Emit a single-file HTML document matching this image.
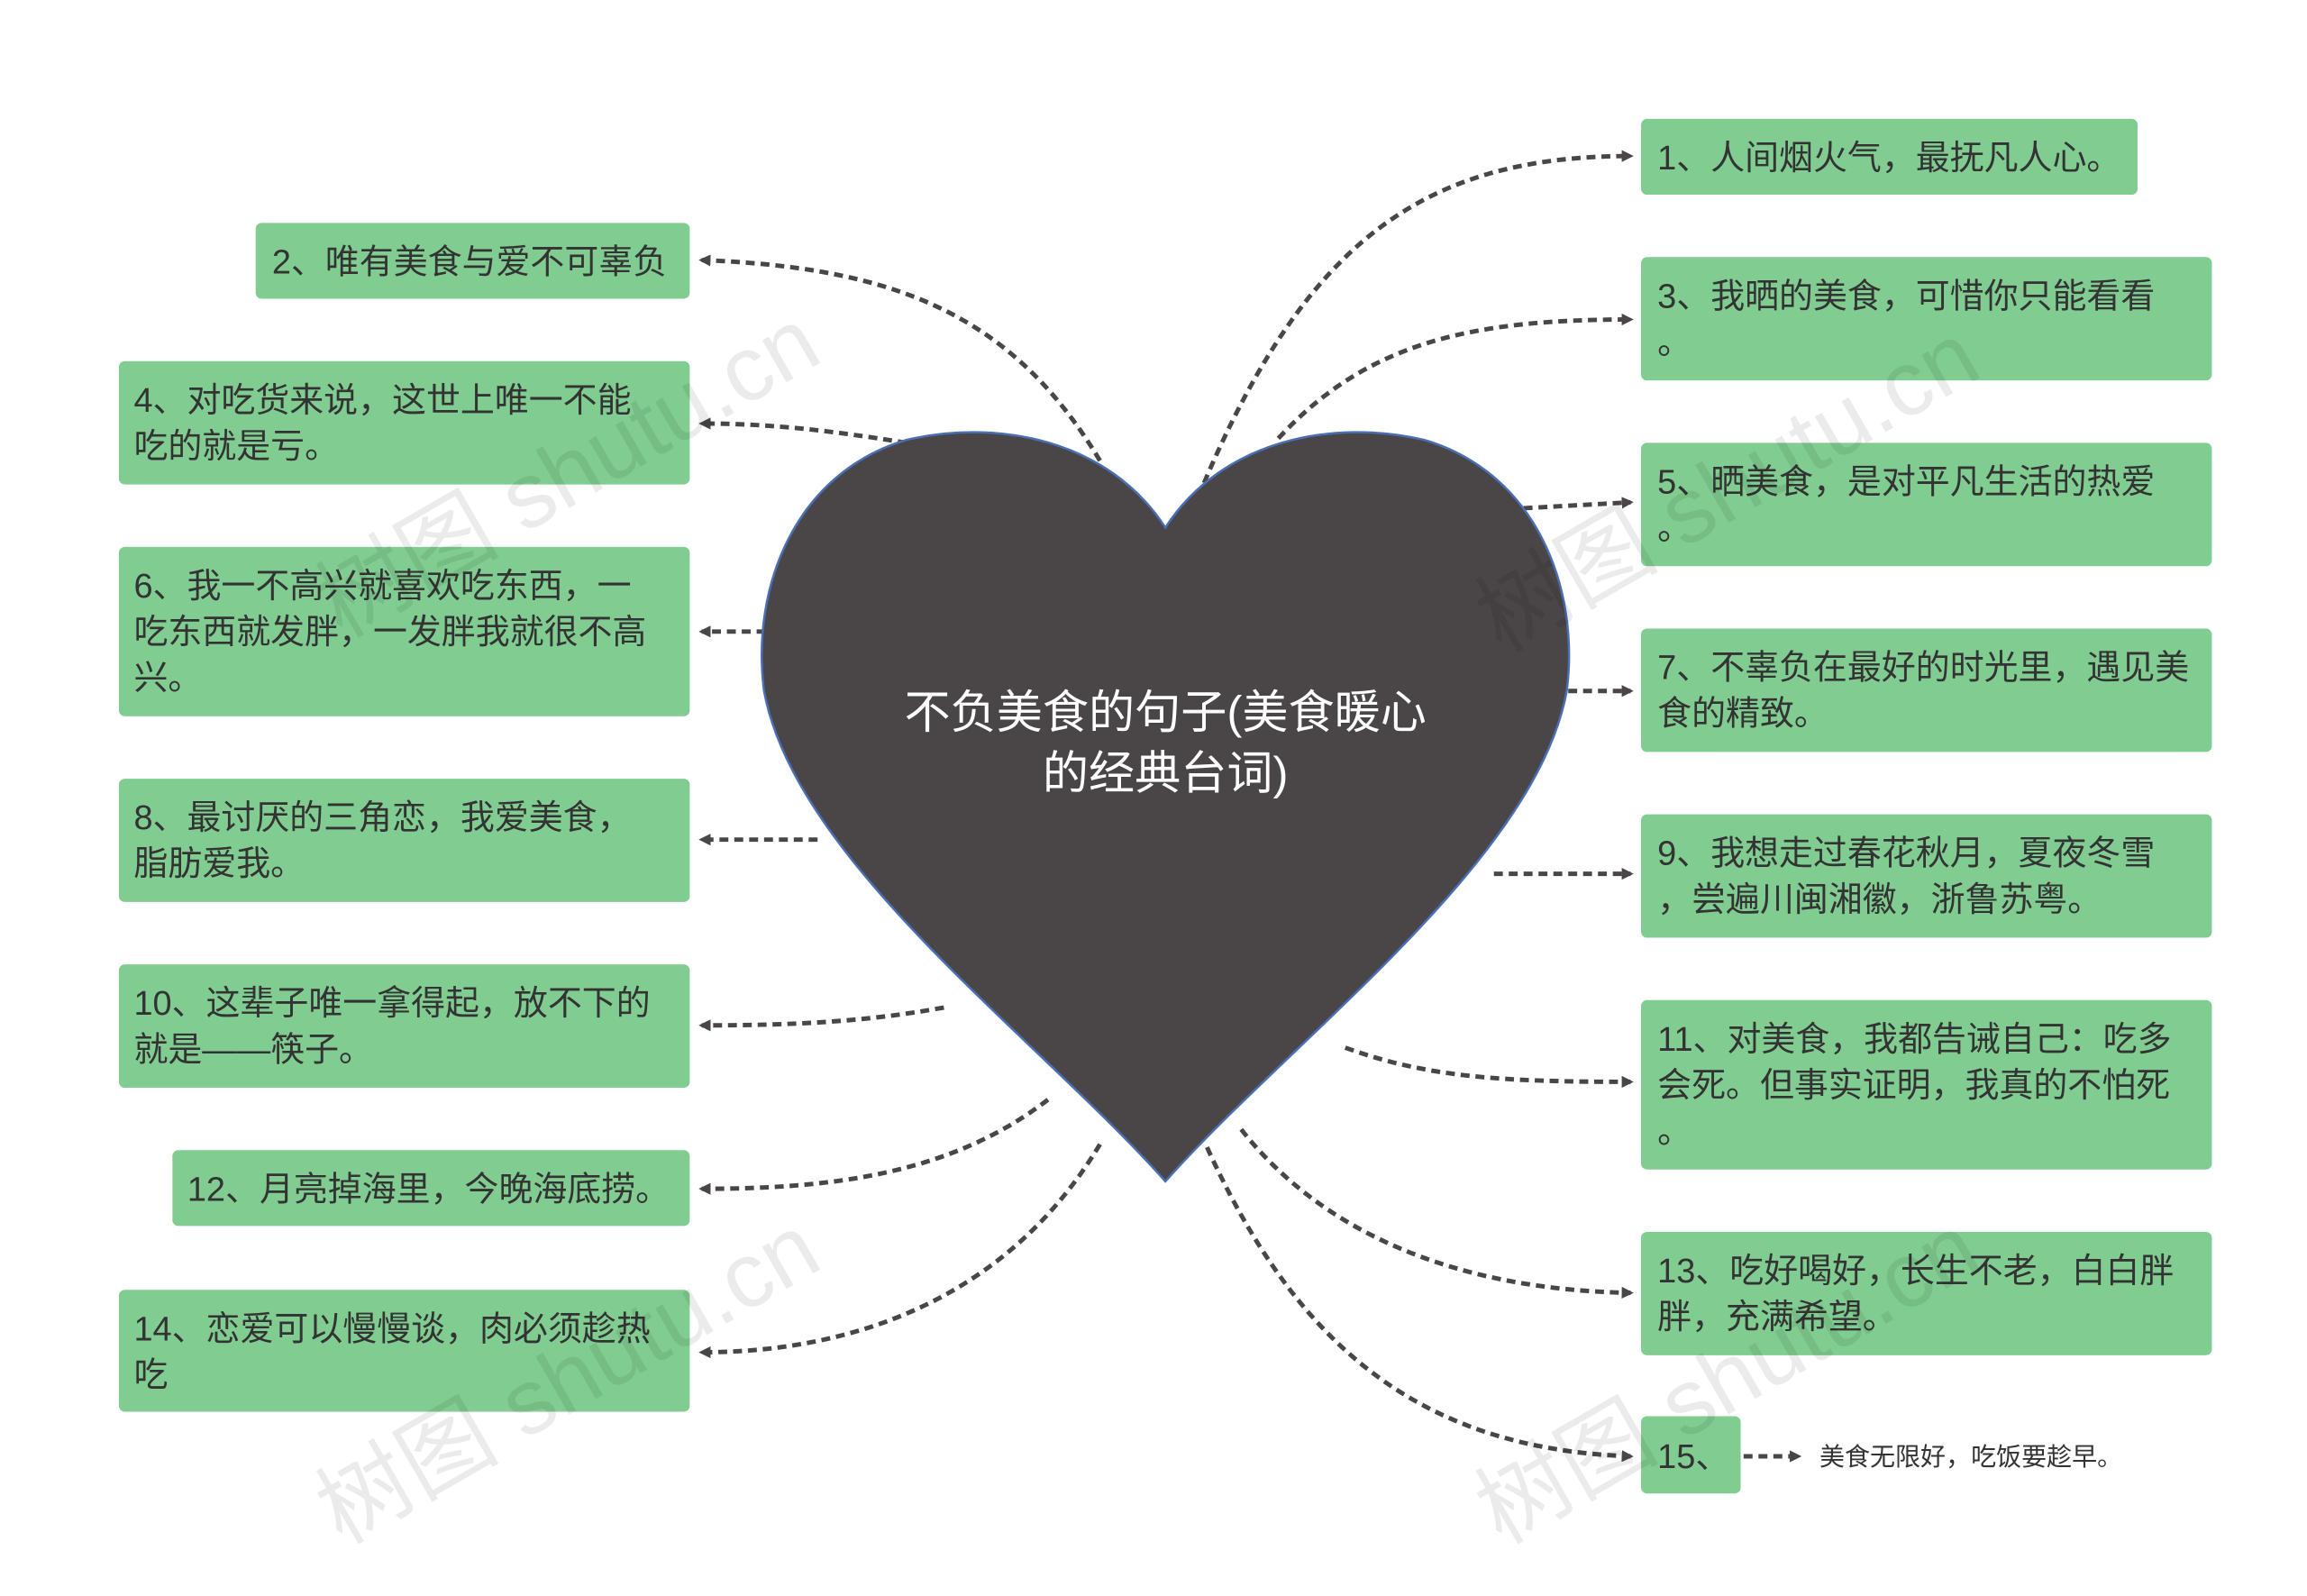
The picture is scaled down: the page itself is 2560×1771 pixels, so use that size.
<!DOCTYPE html>
<html><head><meta charset="utf-8"><style>
html,body{margin:0;padding:0;background:#fff;}
svg{display:block;}
text{font-family:"Liberation Sans","Noto Sans CJK SC",sans-serif;}
</style></head><body>
<svg width="2560" height="1771" viewBox="0 0 1552 1074" preserveAspectRatio="none" xmlns="http://www.w3.org/2000/svg">
<defs>
<marker id="a" markerWidth="8" markerHeight="8" refX="6" refY="4" orient="auto" markerUnits="userSpaceOnUse"><path d="M0,0 L8,4 L0,8 Z" fill="#4a4546"/></marker>
</defs>
<rect width="1552" height="1074" fill="#fff"/>
<g fill="none" stroke="#4a4546" stroke-width="3" stroke-dasharray="6 4" marker-end="url(#a)">
<path d="M740,310 C680,210 600,180 472,175"/>
<path d="M610,298 C560,290 520,285 472,285"/>
<path d="M515,425 L472,425"/>
<path d="M550,565 L472,565"/>
<path d="M635,678 C580,688 530,690 472,690"/>
<path d="M705,740 C640,790 560,800 472,800"/>
<path d="M740,770 C680,870 580,910 472,910"/>
<path d="M810,325 C880,160 960,105 1097,105"/>
<path d="M860,295 C920,230 990,215 1097,215"/>
<path d="M1025,342 L1097,338"/>
<path d="M1055,465 L1097,465"/>
<path d="M1005,588 L1097,588"/>
<path d="M905,705 C960,725 1010,728 1097,728"/>
<path d="M835,760 C890,830 980,868 1097,870"/>
<path d="M812,772 C870,900 950,975 1097,980"/>
<path d="M1173,980 L1210,980"/>
</g>
<path d="M784,355 C745,295 670,282 610,296 C535,318 505,395 514,465 C535,580 700,700 784,795 C868,700 1033,580 1054,465 C1063,395 1033,318 958,296 C898,282 823,295 784,355 Z" fill="#4a4546" stroke="#4a6fb5" stroke-width="1.5"/>
<text x="784" y="490" fill="#fff" font-size="31" text-anchor="middle">不负美食的句子(美食暖心</text>
<text x="784" y="531" fill="#fff" font-size="31" text-anchor="middle">的经典台词)</text>
<g fill="#80cc91">
<rect x="172" y="150" width="292" height="51" rx="4"/>
<rect x="80" y="243" width="384" height="83" rx="4"/>
<rect x="80" y="368" width="384" height="114" rx="4"/>
<rect x="80" y="524" width="384" height="83" rx="4"/>
<rect x="80" y="649" width="384" height="83" rx="4"/>
<rect x="116" y="774" width="348" height="51" rx="4"/>
<rect x="80" y="868" width="384" height="82" rx="4"/>
<rect x="1104" y="80" width="334" height="51" rx="4"/>
<rect x="1104" y="173" width="384" height="83" rx="4"/>
<rect x="1104" y="298" width="384" height="83" rx="4"/>
<rect x="1104" y="423" width="384" height="83" rx="4"/>
<rect x="1104" y="548" width="384" height="83" rx="4"/>
<rect x="1104" y="673" width="384" height="114" rx="4"/>
<rect x="1104" y="829" width="384" height="83" rx="4"/>
<rect x="1104" y="953" width="67" height="52" rx="4"/>
</g>
<g fill="#333" font-size="23">
<text x="183" y="184">2、唯有美食与爱不可辜负</text>
<text x="90" y="277">4、对吃货来说，这世上唯一不能</text>
<text x="90" y="308">吃的就是亏。</text>
<text x="90" y="402">6、我一不高兴就喜欢吃东西，一</text>
<text x="90" y="433">吃东西就发胖，一发胖我就很不高</text>
<text x="90" y="464">兴。</text>
<text x="90" y="558">8、最讨厌的三角恋，我爱美食，</text>
<text x="90" y="589">脂肪爱我。</text>
<text x="90" y="683">10、这辈子唯一拿得起，放不下的</text>
<text x="90" y="714">就是——筷子。</text>
<text x="126" y="808">12、月亮掉海里，今晚海底捞。</text>
<text x="90" y="902">14、恋爱可以慢慢谈，肉必须趁热</text>
<text x="90" y="933">吃</text>
<text x="1115" y="114">1、人间烟火气，最抚凡人心。</text>
<text x="1115" y="207">3、我晒的美食，可惜你只能看看</text>
<text x="1115" y="238">。</text>
<text x="1115" y="332">5、晒美食，是对平凡生活的热爱</text>
<text x="1115" y="363">。</text>
<text x="1115" y="457">7、不辜负在最好的时光里，遇见美</text>
<text x="1115" y="488">食的精致。</text>
<text x="1115" y="582">9、我想走过春花秋月，夏夜冬雪</text>
<text x="1115" y="613">，尝遍川闽湘徽，浙鲁苏粤。</text>
<text x="1115" y="707">11、对美食，我都告诫自己：吃多</text>
<text x="1115" y="738">会死。但事实证明，我真的不怕死</text>
<text x="1115" y="769">。</text>
<text x="1115" y="863">13、吃好喝好，长生不老，白白胖</text>
<text x="1115" y="894">胖，充满希望。</text>
<text x="1115" y="988">15、</text>
<text x="1224" y="986" font-size="17">美食无限好，吃饭要趁早。</text>
</g>
<g fill="#000" fill-opacity="0.08" font-size="62" font-family="Liberation Serif, Noto Serif CJK SC, serif">
<text transform="translate(230,430) rotate(-30)">树图 shutu.cn</text>
<text transform="translate(1010,440) rotate(-30)">树图 shutu.cn</text>
<text transform="translate(230,1040) rotate(-30)">树图 shutu.cn</text>
<text transform="translate(1010,1040) rotate(-30)">树图 shutu.cn</text>
</g>
</svg>
</body></html>
